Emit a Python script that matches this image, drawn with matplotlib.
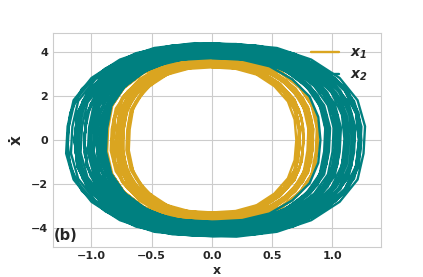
import numpy as np
import matplotlib.pyplot as plt
import seaborn as sns

sns.set_style("whitegrid")
plt.rcParams['font.family'] = ['DejaVu Sans']
plt.rcParams['font.weight'] = 'bold'

# two unit loops (clockwise, starting at the top),
# the second one with its corners half a step further on
loop_a_x = [0.00, 0.28, 0.53, 0.74, 0.90, 0.98, 1.00, 0.98, 0.90, 0.74, 0.53, 0.28,
            0.00, -0.28, -0.53, -0.74, -0.90, -0.98, -1.00, -0.98, -0.90, -0.74, -0.53, -0.28, 0.00]
loop_a_y = [1.00, 0.98, 0.90, 0.74, 0.53, 0.28, 0.00, -0.28, -0.53, -0.74, -0.90, -0.98,
            -1.00, -0.98, -0.90, -0.74, -0.53, -0.28, 0.00, 0.28, 0.53, 0.74, 0.90, 0.98, 1.00]
loop_b_x = [0.14, 0.41, 0.64, 0.83, 0.95, 1.00, 0.99, 0.95, 0.83, 0.64, 0.41, 0.14,
            -0.14, -0.41, -0.64, -0.83, -0.95, -1.00, -0.99, -0.95, -0.83, -0.64, -0.41, -0.14, 0.14]
loop_b_y = [0.99, 0.95, 0.83, 0.64, 0.41, 0.14, -0.14, -0.41, -0.64, -0.83, -0.95, -1.00,
            -0.99, -0.95, -0.83, -0.64, -0.41, -0.14, 0.14, 0.41, 0.64, 0.83, 0.95, 1.00, 0.99]

# amplitude of each turn (x, xdot) and centre shift in x
x1_ax = [0.70, 0.72, 0.74, 0.71, 0.76, 0.78, 0.80, 0.77, 0.82, 0.84,
         0.79, 0.86, 0.83, 0.88, 0.85, 0.89, 0.81, 0.87, 0.75, 0.73]
x1_ay = [3.30, 3.34, 3.38, 3.42, 3.46, 3.40, 3.50, 3.54, 3.58, 3.48,
         3.62, 3.66, 3.56, 3.70, 3.74, 3.78, 3.64, 3.82, 3.44, 3.36]
x1_cx = [0.00, 0.01, -0.01, 0.02, 0.00, -0.02, 0.01, 0.03, -0.01, 0.00,
         0.02, -0.02, 0.01, 0.00, 0.03, -0.01, 0.02, 0.00, 0.01, -0.01]

x2_ax = [0.90, 0.92, 0.94, 0.96, 0.93, 0.98, 1.00, 0.97, 1.02, 1.04,
         1.01, 1.06, 1.08, 1.05, 1.10, 1.12, 1.09, 1.14, 1.16, 1.13,
         1.18, 1.20, 1.17, 1.22, 1.11, 1.03, 0.99, 1.15, 1.19, 1.24,
         0.95, 1.07, 1.21, 0.91]
x2_ay = [3.72, 3.76, 3.80, 3.84, 3.88, 3.82, 3.92, 3.96, 3.90, 4.00,
         4.04, 3.98, 4.08, 4.12, 4.06, 4.16, 4.20, 4.14, 4.24, 4.28,
         4.22, 4.32, 4.36, 4.30, 4.18, 3.94, 4.02, 4.26, 4.34, 4.40,
         3.86, 4.10, 4.38, 3.78]
x2_cx = [0.00, 0.03, 0.01, 0.05, 0.02, 0.00, 0.04, 0.06, 0.01, 0.03,
         0.05, 0.00, 0.02, 0.06, 0.04, 0.01, 0.03, 0.05, 0.02, 0.00,
         0.04, 0.03, 0.06, 0.02, 0.05, 0.01, 0.04, 0.03, 0.05, 0.03,
         0.02, 0.04, 0.01, 0.03]


def trace(axs, ays, cxs):
    xs, ys = [], []
    for k, (a, b, c) in enumerate(zip(axs, ays, cxs)):
        lx, ly = (loop_a_x, loop_a_y) if k % 2 == 0 else (loop_b_x, loop_b_y)
        xs.append(a * np.array(lx) + c)
        ys.append(b * np.array(ly))
    return np.concatenate(xs), np.concatenate(ys)


X1, Y1 = trace(x1_ax, x1_ay, x1_cx)
X2, Y2 = trace(x2_ax, x2_ay, x2_cx)

fig, ax = plt.subplots(figsize=(4.23, 2.77), dpi=100)

ax.plot(X1, Y1, color='#DAA520', lw=1.7, label=r'$\mathbfit{x_1}$')
ax.plot(X2, Y2, color='#008080', lw=1.7, label=r'$\mathbfit{x_2}$')

ax.set_xlim(-1.32, 1.40)
ax.set_ylim(-4.85, 4.85)
ax.set_xticks([-1.0, -0.5, 0.0, 0.5, 1.0])
ax.set_yticks([-4, -2, 0, 2, 4])
ax.tick_params(labelsize=8, length=0, pad=3.5)
for t in ax.get_xticklabels() + ax.get_yticklabels():
    t.set_fontweight('bold')

ax.set_xlabel('x', fontsize=9, fontweight='bold', labelpad=2)
ax.set_ylabel(r'$\dot{\mathbf{x}}$', fontsize=11, labelpad=4)
ax.text(0.004, 0.015, '(b)', transform=ax.transAxes, fontsize=10.5,
        fontweight='bold', va='bottom')
ax.legend(loc='upper right', frameon=False, fontsize=10)

plt.savefig('out.png')
